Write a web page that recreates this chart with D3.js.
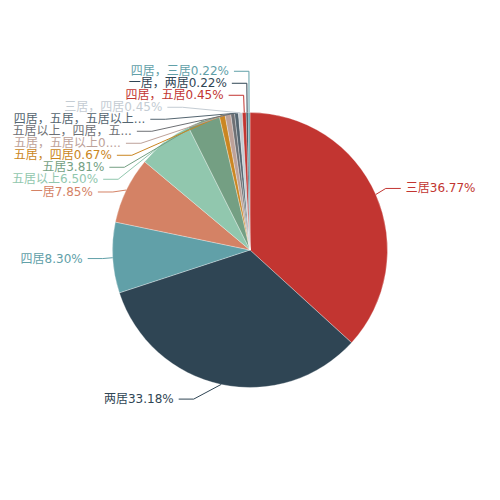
<!DOCTYPE html>
<html>
<head>
<meta charset="utf-8">
<script src="https://cdn.jsdelivr.net/npm/d3@7"></script>
<style>
  body { margin: 0; background: #fff; }
</style>
</head>
<body>
<svg id="chart"></svg>
<script>
const names = ["三居", "两居", "四居", "一居", "五居以上", "五居", "五居，四居", "五居，五居以上",
  "五居以上，四居，五居", "四居，五居，五居以上", "三居，四居", "四居，五居", "一居，两居", "四居，三居"];
const values = [36.77, 33.18, 8.30, 7.85, 6.50, 3.81, 0.67, 0.67, 0.45, 0.45, 0.45, 0.45, 0.22, 0.22];
const colors = ["#c23531", "#2f4554", "#61a0a8", "#d48265", "#91c7ae", "#749f83",
  "#ca8622", "#bda29a", "#6e7074", "#546570", "#c4ccd3"];

const width = 500;
const height = 500;
const cx = width / 2;
const cy = height / 2;
const radius = (Math.min(width, height) / 2) * 0.55;
const lineLen = 15;
const lineLen2 = 15;
const labelDist = 5;
const bleed = 10;
const labelH = 12;
const font = "12px 'DejaVu Sans', 'Noto Sans CJK SC', sans-serif";

const ctx = document.createElement("canvas").getContext("2d");
ctx.font = font;
const textW = (t) => ctx.measureText(t).width;

const svg = d3.select("#chart").attr("width", width).attr("height", height);

const data = names.map((name, i) => ({ name, value: values[i] }));
const pie = d3.pie().sort(null).value((d) => d.value);
const arcs = pie(data);
const arc = d3.arc().innerRadius(0).outerRadius(radius);
const color = d3.scaleOrdinal().domain(names).range(colors);

// slices
svg
  .append("g")
  .attr("transform", `translate(${cx}, ${cy})`)
  .selectAll("path")
  .data(arcs)
  .enter()
  .append("path")
  .attr("d", arc)
  .attr("fill", (d) => color(d.data.name))
  .attr("stroke", "#fff")
  .attr("stroke-width", 0.5)
  .attr("stroke-opacity", 0.6);

// label positions, outside with elbow lines
const labels = arcs.map((a) => {
  const mid = (a.startAngle + a.endAngle) / 2;
  const dx = Math.sin(mid);
  const dy = -Math.cos(mid);
  const dir = dx < 0 ? -1 : 1;
  const x1 = cx + radius * dx;
  const y1 = cy + radius * dy;
  const x2 = x1 + dx * lineLen;
  const y2 = y1 + dy * lineLen;
  const x3 = x2 + dir * lineLen2;
  return {
    name: a.data.name,
    text: a.data.name + a.data.value.toFixed(2) + "%",
    dir,
    x: x3 + dir * labelDist,
    y: y2,
    height: labelH,
    pts: [[x1, y1], [x2, y2], [x3, y2]],
  };
});

function adjustSide(list, dir) {
  list.sort((a, b) => a.y - b.y);
  const n = list.length;

  function shiftUp(end, delta) {
    for (let j = end; j >= 0; j--) {
      if (list[j].y - delta < 0) break;
      list[j].y -= delta;
      if (j > 0 && list[j].y > list[j - 1].y + list[j - 1].height) break;
    }
  }

  function shiftDown(start, end, delta) {
    for (let j = start; j < end; j++) {
      if (list[j].y + delta > height) break;
      list[j].y += delta;
      if (j > start && j + 1 < end && list[j + 1].y > list[j].y + list[j].height) {
        shiftUp(j, delta / 2);
        return;
      }
    }
    shiftUp(end - 1, delta / 2);
  }

  function changeX(sub, down) {
    let last = down ? Number.MAX_VALUE : 0;
    sub.forEach((l) => {
      const dy = Math.abs(l.y - cy);
      const r2 = radius + lineLen + lineLen2;
      let dx = dy < radius + lineLen ? Math.sqrt(r2 * r2 - dy * dy) : Math.abs(l.x - cx);
      if (down && dx >= last) dx = last - 10;
      if (!down && dx <= last) dx = last + 10;
      l.x = cx + dx * dir;
      last = dx;
    });
  }

  let lastY = 0;
  for (let i = 0; i < n; i++) {
    const delta = list[i].y - lastY;
    if (delta < 0) shiftDown(i, n, -delta);
    lastY = list[i].y + list[i].height;
  }
  if (height - lastY < 0) shiftUp(n - 1, lastY - height);

  changeX(list.filter((l) => l.y < cy), false);
  changeX(list.filter((l) => l.y >= cy), true);
}

adjustSide(labels.filter((l) => l.dir > 0), 1);
adjustSide(labels.filter((l) => l.dir < 0), -1);

function truncate(t, maxW) {
  const cw = Math.max(0, maxW - 1);
  if (textW(t) <= cw) return t;
  const room = cw - textW("...");
  while (t.length && textW(t) > room) t = t.slice(0, -1);
  return t + "...";
}

labels.forEach((l) => {
  const dist = l.pts[1][0] - l.pts[2][0];
  l.pts[2][0] = l.x - l.dir * labelDist;
  l.pts[1][0] = l.pts[2][0] + dist;
  l.pts[1][1] = l.pts[2][1] = l.y;
  const target = l.dir < 0 ? l.x - bleed : width - l.x - bleed;
  l.shown = truncate(l.text, target);
});

const line = d3.line();

svg
  .append("g")
  .selectAll("path")
  .data(labels)
  .enter()
  .append("path")
  .attr("d", (d) => line(d.pts))
  .attr("fill", "none")
  .attr("stroke", (d) => color(d.name))
  .attr("stroke-width", 1);

svg
  .append("g")
  .selectAll("text")
  .data(labels)
  .enter()
  .append("text")
  .attr("x", (d) => d.x)
  .attr("y", (d) => d.y)
  .attr("text-anchor", (d) => (d.dir < 0 ? "end" : "start"))
  .attr("dominant-baseline", "central")
  .style("font", font)
  .attr("fill", (d) => color(d.name))
  .text((d) => d.shown);
</script>
</body>
</html>
